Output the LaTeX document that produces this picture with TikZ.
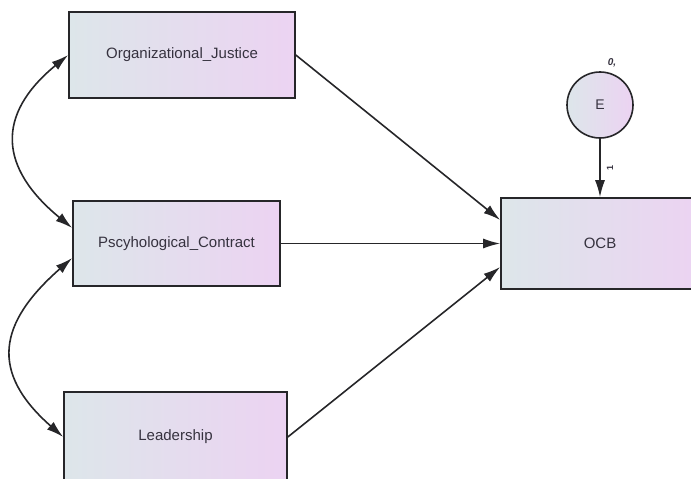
\documentclass[tikz,border=0pt]{standalone}
\usepackage{fontspec}
\setmainfont{Liberation Sans}
\usetikzlibrary{arrows.meta}
\definecolor{lnc}{HTML}{262629}
\definecolor{txc}{HTML}{36323F}
\definecolor{fl}{HTML}{DDE6EA}
\definecolor{fr}{HTML}{ECD3F2}
\tikzset{
  varbox/.style={draw=lnc, line width=1.6pt, left color=fl, right color=fr,
    text=txc, font=\fontsize{15}{17}\selectfont, inner sep=0pt},
  errcirc/.style={circle, draw=lnc, line width=1.6pt, left color=fl, right color=fr,
    text=txc, font=\fontsize{14}{16}\selectfont, minimum size=66pt, inner sep=0pt},
  path/.style={draw=lnc, line width=1.6pt, -{Latex[length=17pt,width=10pt]}},
  cov/.style={draw=lnc, line width=1.6pt, {Latex[length=17pt,width=10pt]}-{Latex[length=17pt,width=10pt]}},
  smalllab/.style={text=txc, inner sep=0pt}
}
\begin{document}
\begin{tikzpicture}[x=1pt,y=-1pt]
\useasboundingbox (0,0) rectangle (691,479);
\begin{scope}
\clip (0,0) rectangle (691,479);
\node[varbox, minimum width=226pt, minimum height=86pt] (org) at (182,55) {Organizational\_Justice};
\node[varbox, minimum width=207pt, minimum height=85pt] (psy) at (176.5,243.5) {Pscyhological\_Contract};
\node[varbox, minimum width=223pt, minimum height=90pt] (lead) at (175.5,437) {Leadership};
\node[varbox, minimum width=198pt, minimum height=91pt] (ocb) at (600,243.5) {OCB};
\node[errcirc] (e) at (600,105) {E};
\node[smalllab, font=\fontsize{10}{11}\selectfont\bfseries\itshape] (zero) at (612,63) {0,};

\coordinate (ocb1) at ([yshift=23.5pt]ocb.west);
\coordinate (ocb3) at ([yshift=-23.5pt]ocb.west);
\coordinate (psyup) at ([yshift=15.5pt]psy.west);
\coordinate (psydn) at ([yshift=-14.5pt]psy.west);

\draw[path] (org.east) -- (ocb1);
\draw[path] (psy.east) -- (ocb.west);
\draw[path] (lead.east) -- (ocb3);
\draw[path] (e.south) -- (ocb.north) node[pos=0.5, xshift=10pt, smalllab, font=\fontsize{9}{10}\selectfont\bfseries, rotate=90] (one) {1};

\draw[cov] (org.west) .. controls +(-73,60) and +(-73,-60) .. (psyup);
\draw[cov] (psydn) .. controls +(-74,65) and +(-74,-65) .. (lead.west);
\end{scope}
\end{tikzpicture}
\end{document}
